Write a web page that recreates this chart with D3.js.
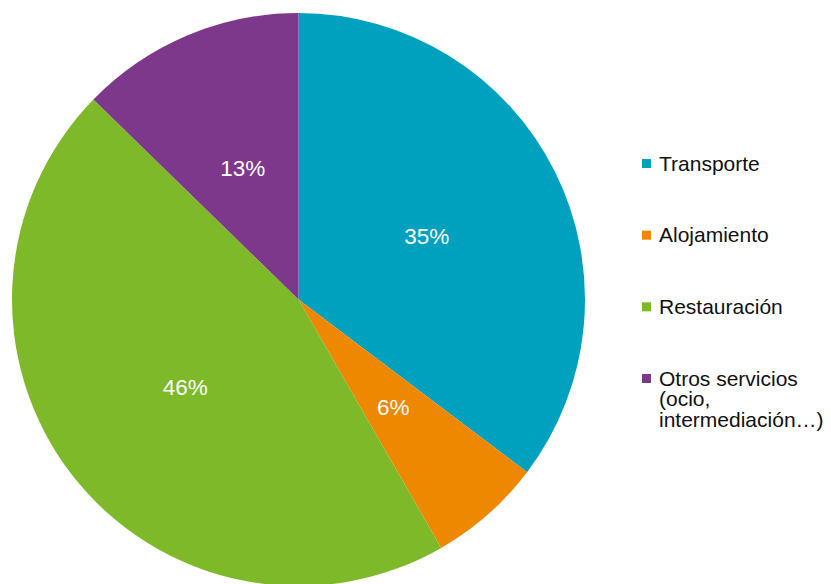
<!DOCTYPE html>
<html><head><meta charset="utf-8">
<script src="https://cdn.jsdelivr.net/npm/d3@7"></script>
<style>html,body{margin:0;padding:0;background:#fff;} svg{display:block;}</style>
</head><body>
<svg id="c" width="831" height="584"></svg>
<script>
const categories = ["Transporte", "Alojamiento", "Restauración", "Otros servicios (ocio, intermediación…)"];
const legendLines = [["Transporte"], ["Alojamiento"], ["Restauración"], ["Otros servicios", "(ocio,", "intermediación…)"]];
const values = [35.3, 6.4, 45.6, 12.7];
const colors = ["#00A0BF", "#EE8800", "#7DB928", "#7D388B"];

const svg = d3.select("#c");
const cx = 298.5, cy = 299.5, R = 286.5;
const font = "'Liberation Sans', Arial, Helvetica, sans-serif";

const pie = d3.pie().sort(null).value(d => d)(values);
const arc = d3.arc().innerRadius(0).outerRadius(R);
const g = svg.append("g").attr("transform", `translate(${cx},${cy})`);
g.selectAll("path").data(pie).join("path")
  .attr("d", arc).attr("fill", (d, i) => colors[i]);

const labelArc = d3.arc().innerRadius(0).outerRadius(R);
g.selectAll("text").data(pie).join("text")
  .attr("x", d => labelArc.centroid(d)[0])
  .attr("y", d => labelArc.centroid(d)[1] + 8)
  .attr("text-anchor", "middle")
  .attr("font-family", font).attr("font-size", 22.5)
  .attr("fill", "#fff")
  .text(d => Math.round(d.data) + "%");

const color = d3.scaleOrdinal().domain(categories).range(colors);
const ly = d3.scalePoint().domain(categories).range([163.5, 378.5]);
const lg = svg.append("g");
categories.forEach((c, i) => {
  const y = ly(c);
  lg.append("rect").attr("x", 642).attr("y", y - 4.5).attr("width", 9).attr("height", 9).attr("fill", color(c));
  const t = lg.append("text").attr("font-family", font).attr("font-size", 21).attr("fill", "#111");
  legendLines[i].forEach((line, j) => {
    t.append("tspan").attr("x", 659).attr("y", y + 7 + j * 20.5).text(line);
  });
});
</script>
</body></html>
